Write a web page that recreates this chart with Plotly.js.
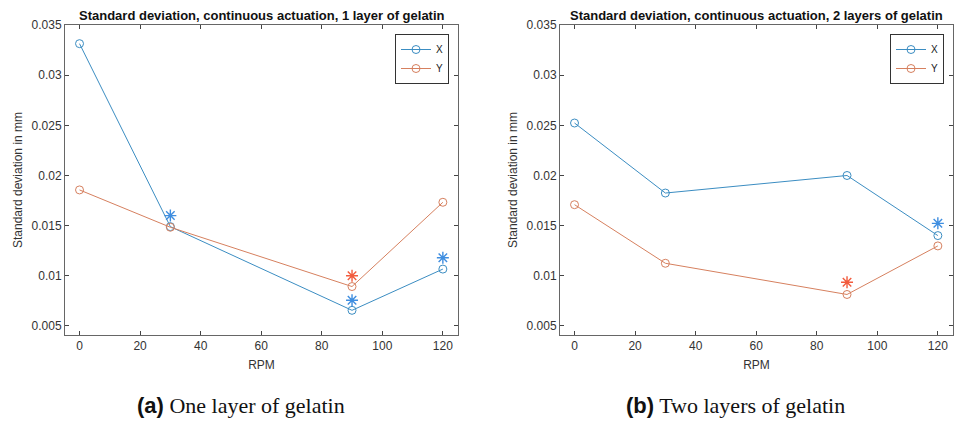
<!DOCTYPE html>
<html>
<head>
<meta charset="utf-8">
<script src="https://cdn.plot.ly/plotly-3.0.1.min.js"></script>
<style>html,body{margin:0;padding:0;background:#fff;}#chart{width:956px;height:423px;}</style>
</head>
<body>
<div id="chart"></div>
<script>
// ---- data ----
const rpm = [0, 30, 90, 120];
const oneLayerX = [0.03314, 0.0149, 0.00656, 0.01067];
const oneLayerY = [0.01856, 0.01484, 0.00893, 0.01733];
const twoLayerX = [0.02523, 0.01825, 0.0200, 0.01401];
const twoLayerY = [0.01709, 0.01125, 0.00814, 0.01298];
// significance asterisks
const oneSigX_rpm = [30, 90, 120];
const oneSigX_val = [0.0160, 0.00756, 0.0118];
const oneSigY_rpm = [90];
const oneSigY_val = [0.0100];
const twoSigX_rpm = [120];
const twoSigX_val = [0.01523];
const twoSigY_rpm = [90];
const twoSigY_val = [0.00936];

const xTickVals = [0, 20, 40, 60, 80, 100, 120];
const yTickVals = [0.005, 0.01, 0.015, 0.02, 0.025, 0.03, 0.035];
const yTickText = ['0.005', '0.01', '0.015', '0.02', '0.025', '0.03', '0.035'];
const titles = ['Standard deviation, continuous actuation, 1 layer of gelatin',
                'Standard deviation, continuous actuation, 2 layers of gelatin'];
const captionsTag = ['(a)', '(b)'];
const captionsText = ['One layer of gelatin', 'Two layers of gelatin'];
const seriesNames = ['X', 'Y'];

const blue = '#3b8dc2';
const orange = '#d6805f';
const starBlue = '#3f8ee0';
const starRed = '#f25b3d';

function line(x, y, name, color, xa, ya, leg) {
  return {x: x, y: y, name: name, type: 'scatter', mode: 'lines+markers',
    xaxis: xa, yaxis: ya, legend: leg,
    line: {color: color, width: 1},
    marker: {symbol: 'circle-open', size: 8, color: color, line: {width: 1, color: color}}};
}
function stars(x, y, color, xa, ya) {
  return {x: x, y: y, type: 'scatter', mode: 'markers', showlegend: false,
    xaxis: xa, yaxis: ya, hoverinfo: 'skip',
    marker: {symbol: 'asterisk-open', size: 10, color: color, line: {width: 1.4, color: color}}};
}

const data = [
  line(rpm, oneLayerX, seriesNames[0], blue, 'x', 'y', 'legend'),
  line(rpm, oneLayerY, seriesNames[1], orange, 'x', 'y', 'legend'),
  stars(oneSigX_rpm, oneSigX_val, starBlue, 'x', 'y'),
  stars(oneSigY_rpm, oneSigY_val, starRed, 'x', 'y'),
  line(rpm, twoLayerX, seriesNames[0], blue, 'x2', 'y2', 'legend2'),
  line(rpm, twoLayerY, seriesNames[1], orange, 'x2', 'y2', 'legend2'),
  stars(twoSigX_rpm, twoSigX_val, starBlue, 'x2', 'y2'),
  stars(twoSigY_rpm, twoSigY_val, starRed, 'x2', 'y2')
];

const W = 956, H = 423;
const SANS = 'Liberation Sans, Arial, sans-serif';
const tickFont = {family: SANS, size: 12, color: '#333'};
function xax(domain, anchor) {
  return {domain: domain, anchor: anchor, range: [-4.8, 125], tickvals: xTickVals,
    ticks: 'inside', ticklen: 4, tickcolor: '#444', showline: true, linecolor: '#666', linewidth: 1,
    mirror: 'ticks', showgrid: false, zeroline: false, tickfont: tickFont,
    title: {text: 'RPM', font: {family: SANS, size: 12, color: '#333'}, standoff: 8}};
}
function yax(domain, anchor) {
  return {domain: domain, anchor: anchor, range: [0.0041, 0.035], tickvals: yTickVals, ticktext: yTickText,
    ticks: 'inside', ticklen: 4, tickcolor: '#444', showline: true, linecolor: '#666', linewidth: 1,
    mirror: 'ticks', showgrid: false, zeroline: false, tickfont: tickFont,
    title: {text: 'Standard deviation in mm', font: {family: SANS, size: 12, color: '#333'}, standoff: 6}};
}
const yDom = [1 - 335 / H, 1 - 25 / H];
const leftDom = [65 / W, 458 / W];
const rightDom = [560 / W, 953 / W];

function legendAt(xpx) {
  return {x: xpx / W, y: 1 - 34 / H, xanchor: 'left', yanchor: 'top',
    bgcolor: '#fff', bordercolor: '#333', borderwidth: 1,
    font: {family: SANS, size: 10, color: '#222'},
    itemwidth: 30, tracegroupgap: 0};
}

const annotations = [];
[leftDom, rightDom].forEach((d, i) => {
  const cx = (d[0] + d[1]) / 2;
  annotations.push({xref: 'paper', yref: 'paper', x: cx, y: 1 - 15 / H, xanchor: 'center', yanchor: 'middle',
    text: '<b>' + titles[i] + '</b>', showarrow: false,
    font: {family: SANS, size: 13, color: '#111'}});
});
const captionCenters = [241, 735];
captionCenters.forEach((px, i) => {
  annotations.push({xref: 'paper', yref: 'paper', x: px / W, y: 1 - 405 / H, xanchor: 'center', yanchor: 'middle',
    text: '<span style="font-family:Liberation Sans, Arial, sans-serif;font-weight:bold;">' + captionsTag[i] + '</span> ' + captionsText[i],
    showarrow: false,
    font: {family: 'Liberation Serif, DejaVu Serif, serif', size: 22, color: '#111'}});
});

const layout = {
  width: W, height: H, margin: {l: 0, r: 0, t: 0, b: 0},
  paper_bgcolor: '#fff', plot_bgcolor: '#fff', showlegend: true,
  xaxis: xax(leftDom, 'y'), yaxis: yax(yDom, 'x'),
  xaxis2: xax(rightDom, 'y2'), yaxis2: yax(yDom, 'x2'),
  legend: legendAt(395), legend2: legendAt(890),
  annotations: annotations
};

Plotly.newPlot('chart', data, layout, {displayModeBar: false, staticPlot: true});
</script>
</body>
</html>
